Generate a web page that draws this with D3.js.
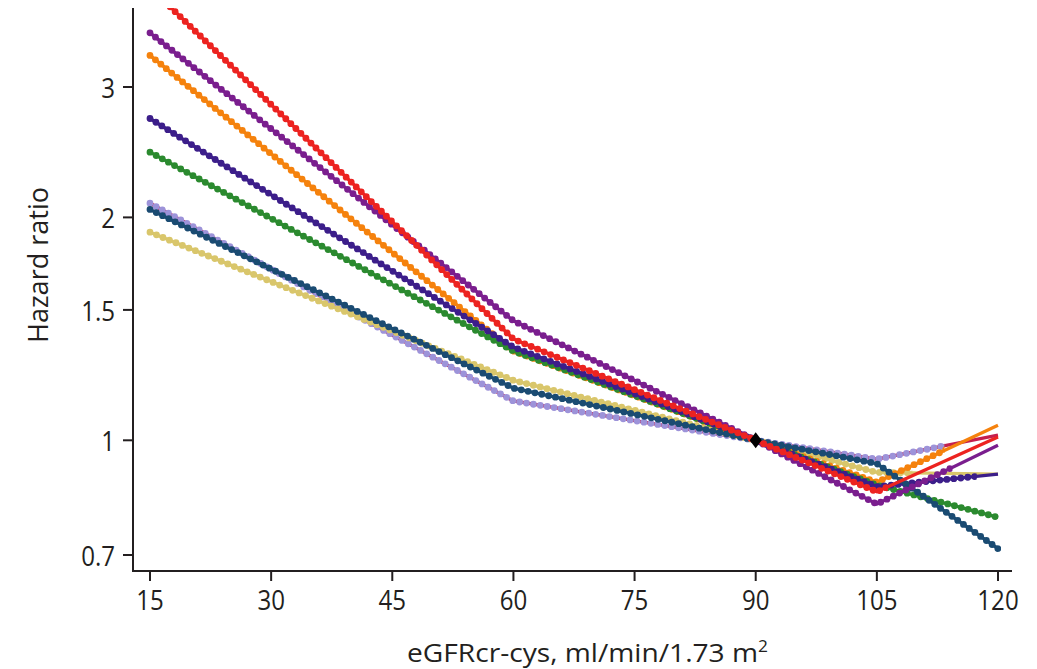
<!DOCTYPE html>
<html>
<head>
<meta charset="utf-8">
<script src="https://cdn.jsdelivr.net/npm/d3@7"></script>
<style>
  html, body { margin: 0; padding: 0; background: #ffffff; }
  svg { display: block; }
  text { font-family: "Open Sans", "Noto Sans", sans-serif; fill: #231f20; }
</style>
</head>
<body>
<svg id="chart" width="1037" height="669"></svg>
<script>
// ---------- data ----------
const xTicks = [15, 30, 45, 60, 75, 90, 105, 120];
const yTicks = [0.7, 1, 1.5, 2, 3];
const knotsEGFR = [15, 60, 90, 105, 120];

const hrLavender = [2.09, 1.13, 1, 0.943, 1.016];
const hrYellow   = [1.91, 1.205, 1, 0.905, 0.90];
const hrOrange   = [3.31, 1.32, 1, 0.878, 1.048];
const hrGreen    = [2.45, 1.32, 1, 0.87, 0.787];
const hrIndigo   = [2.72, 1.336, 1, 0.866, 0.90];
const hrNavy     = [2.05, 1.176, 1, 0.93, 0.714];
const hrPurple   = [3.55, 1.45, 1, 0.82, 0.985];
const hrRed      = [4.09, 1.37, 1, 0.852, 1.01];

// eGFR up to which the beaded (marker) part of each curve is shown
const dotsEnd = {lavender: 113, yellow: 109, orange: 113, green: 120,
                 indigo: 117, navy: 120, purple: 114, red: 106};

const refPoint = {egfr: 90, hr: 1};

const xTitle = "eGFRcr-cys, ml/min/1.73 m";
const xTitleSup = "2";
const yTitle = "Hazard ratio";

// ---------- styles ----------
const series = [
  {key: "lavender", values: hrLavender, line: "#c41f4e", dot: "#9d93d9"},
  {key: "yellow",   values: hrYellow,   line: "#d9c66b", dot: "#d9c66b"},
  {key: "orange",   values: hrOrange,   line: "#f5820d", dot: "#f5820d"},
  {key: "green",    values: hrGreen,    line: "#2b8a2f", dot: "#2b8a2f"},
  {key: "indigo",   values: hrIndigo,   line: "#3c1e8a", dot: "#3c1e8a"},
  {key: "navy",     values: hrNavy,     line: "#1a4b72", dot: "#1a4b72"},
  {key: "purple",   values: hrPurple,   line: "#7a1e8e", dot: "#7a1e8e"},
  {key: "red",      values: hrRed,      line: "#ec2320", dot: "#ec2320"}
];

const svg = d3.select("#chart");
const plotLeft = 133, plotRight = 1012, plotTop = 8, plotBottom = 571;

const x = d3.scaleLinear().domain([15, 120]).range([150, 998]);
const y = d3.scaleLog().domain([0.7, 3]).range([555, 87]);

const defs = svg.append("defs");
defs.append("clipPath").attr("id", "plotclip")
  .append("rect")
  .attr("x", plotLeft).attr("y", plotTop)
  .attr("width", plotRight - plotLeft).attr("height", plotBottom - plotTop);

series.forEach(s => {
  defs.append("clipPath").attr("id", "dots-" + s.key)
    .append("rect")
    .attr("x", plotLeft).attr("y", plotTop)
    .attr("width", x(dotsEnd[s.key]) - plotLeft + 3)
    .attr("height", plotBottom - plotTop);
});

const line = d3.line()
  .x((d, i) => x(knotsEGFR[i]))
  .y(d => y(d));

const gLines = svg.append("g").attr("clip-path", "url(#plotclip)");

series.forEach(s => {
  const g = gLines.append("g");
  g.append("path")
    .datum(s.values)
    .attr("d", line)
    .attr("fill", "none")
    .attr("stroke", s.line)
    .attr("stroke-width", 3.3)
    .attr("stroke-linejoin", "round");
  g.append("g").attr("clip-path", "url(#dots-" + s.key + ")")
    .append("path")
    .datum(s.values)
    .attr("d", line)
    .attr("fill", "none")
    .attr("stroke", s.dot)
    .attr("stroke-width", 6.8)
    .attr("stroke-linecap", "round")
    .attr("stroke-dasharray", "0 7");
});

// reference diamond
svg.append("path")
  .attr("transform", `translate(${x(refPoint.egfr)},${y(refPoint.hr)})`)
  .attr("d", "M0,-8 L6,0 L0,8 L-6,0 Z")
  .attr("fill", "#000");

// ---------- axes ----------
const axisColor = "#231f20";
svg.append("line")
  .attr("x1", plotLeft).attr("x2", plotLeft)
  .attr("y1", plotTop).attr("y2", plotBottom + 1)
  .attr("stroke", axisColor).attr("stroke-width", 2);
svg.append("line")
  .attr("x1", plotLeft - 1).attr("x2", plotRight)
  .attr("y1", plotBottom).attr("y2", plotBottom)
  .attr("stroke", axisColor).attr("stroke-width", 2);

// y ticks
const yt = svg.append("g");
yTicks.forEach(t => {
  yt.append("line")
    .attr("x1", plotLeft - 10).attr("x2", plotLeft)
    .attr("y1", y(t)).attr("y2", y(t))
    .attr("stroke", axisColor).attr("stroke-width", 2);
  yt.append("text")
    .attr("transform", `translate(115,${y(t) + 11}) scale(0.86,1)`)
    .attr("text-anchor", "end")
    .attr("font-size", 28)
    .text(d3.format("")(t));
});

// x ticks
const xt = svg.append("g");
xTicks.forEach(t => {
  xt.append("line")
    .attr("x1", x(t)).attr("x2", x(t))
    .attr("y1", plotBottom).attr("y2", plotBottom + 10)
    .attr("stroke", axisColor).attr("stroke-width", 2);
  xt.append("text")
    .attr("transform", `translate(${x(t)},610) scale(0.86,1)`)
    .attr("text-anchor", "middle")
    .attr("font-size", 28)
    .text(t);
});

// titles
const xt2 = svg.append("text")
  .attr("x", 407).attr("y", 662)
  .attr("font-size", 26)
  .attr("textLength", 361)
  .attr("lengthAdjust", "spacingAndGlyphs");
xt2.append("tspan").text(xTitle);
xt2.append("tspan").attr("dy", -10).attr("font-size", 16).text(xTitleSup);

svg.append("text")
  .attr("transform", "translate(48,265) rotate(-90)")
  .attr("text-anchor", "middle")
  .attr("font-size", 27)
  .attr("textLength", 156)
  .attr("lengthAdjust", "spacingAndGlyphs")
  .text(yTitle);
</script>
</body>
</html>
